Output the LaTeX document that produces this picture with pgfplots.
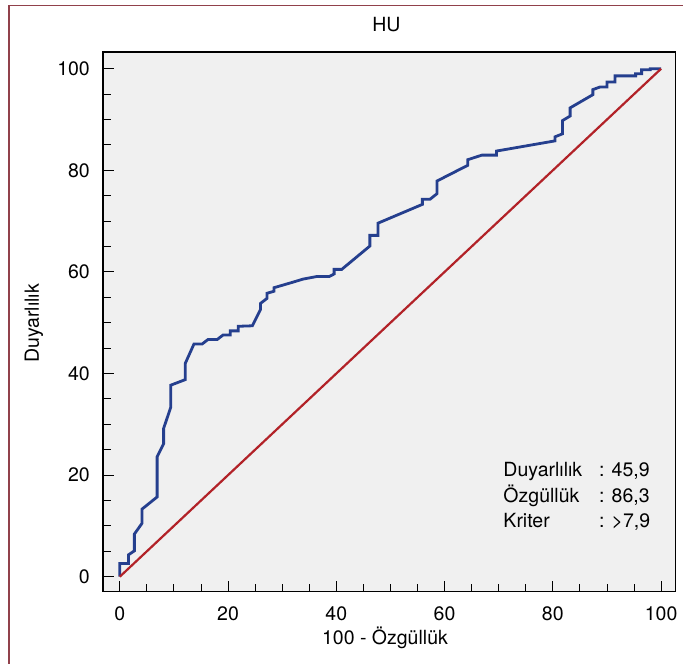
\documentclass[border=0pt]{standalone}
\usepackage{fontspec}
\setmainfont{TeX Gyre Heros}
\usepackage{pgfplots}
\pgfplotsset{compat=1.18}
\usetikzlibrary{calc}
\definecolor{bggray}{RGB}{240,240,240}
\definecolor{roc}{RGB}{37,63,142}
\definecolor{diag}{RGB}{178,34,40}
\definecolor{framecol}{RGB}{145,65,75}
\begin{document}
\fontsize{19.5bp}{23bp}\selectfont
\begin{tikzpicture}
\begin{axis}[name=ax, at={(0,0)}, anchor=south west,
 scale only axis, width=572.7bp, height=539.7bp,
 xmin=-3.1, xmax=102.7, ymin=-2.95, ymax=103.3,
 xtick={0,20,...,100}, ytick={0,20,...,100}, minor tick num=3,
 tick align=inside, xtick pos=bottom, ytick pos=left,
 major tick length=11bp, minor tick length=8bp,
 every tick/.append style={black, line width=0.9bp},
 axis line style={line width=1.2bp, black},
 axis background/.style={fill=bggray},
 /pgf/number format/assume math mode=true,
 tick label style={font=\fontsize{19.5bp}{23bp}\selectfont},
 xticklabel style={inner sep=0pt, yshift=-15bp},
 yticklabel style={inner sep=0pt, xshift=-13bp},
 title={HU}, title style={at={(axis description cs:0.495,1.0278)}, anchor=base, inner sep=0pt},
 xlabel={100 - Özgüllük}, xlabel style={at={(axis description cs:0.4924,-0.0982)}, anchor=base, inner sep=0pt},
 ylabel={Duyarlılık}, ylabel style={at={(axis description cs:-0.1118,0.497)}, anchor=base, inner sep=0pt},
]
\addplot[roc, line width=2.8bp, mark=none] coordinates {
(0,0) (0,2.6) (1.6,2.6) (1.6,4.3) (2.7,5.1) (2.7,8.4) (4.1,10.5) (4.1,13.3)
(6.9,15.7) (6.9,23.6) (8.1,26.2) (8.1,29.2) (9.4,33.3) (9.4,37.7) (12.1,38.8)
(12.1,42.0) (13.7,45.8) (15.2,45.8) (16.3,46.7) (18.0,46.7) (19.1,47.6)
(20.4,47.6) (20.4,48.4) (21.9,48.4) (21.9,49.3) (24.5,49.4) (26.0,52.6)
(26.0,53.8) (27.2,54.8) (27.2,55.8) (28.5,56.2) (28.5,56.9) (31.4,57.8)
(33.9,58.6) (36.4,59.1) (38.7,59.1) (39.6,59.6) (39.6,60.5) (41.0,60.5)
(46.2,65.1) (46.2,67.2) (47.7,67.2) (47.7,69.6) (55.9,73.3) (55.9,74.3)
(57.3,74.3) (58.6,75.4) (58.6,77.9) (64.3,81.0) (64.3,82.1) (66.9,83.0)
(69.6,83.0) (69.6,83.8) (80.4,85.8) (80.4,86.6) (81.8,87.2) (81.8,89.8)
(83.2,90.7) (83.2,92.3) (87.4,94.9) (87.4,95.9) (88.7,96.4) (90.0,96.4)
(90.0,97.4) (91.5,97.4) (91.5,98.6) (95.3,98.6) (95.3,99.0) (96.4,99.0)
(96.4,99.8) (98.0,99.8) (98.0,100) (100,100)
};
\addplot[diag, line width=2.2bp, mark=none] coordinates {(0,0) (100,100)};
\node[anchor=base west, inner sep=0pt] at (axis cs:70.85,19.67) {Duyarlılık};
\node[anchor=base west, inner sep=0pt] at (axis cs:88.5,19.67) {: 45,9};
\node[anchor=base west, inner sep=0pt] at (axis cs:70.85,14.56) {Özgüllük};
\node[anchor=base west, inner sep=0pt] at (axis cs:88.5,14.56) {: 86,3};
\node[anchor=base west, inner sep=0pt] at (axis cs:70.85,9.64) {Kriter};
\node[anchor=base west, inner sep=0pt] at (axis cs:88.5,9.64) {: >7,9};
\end{axis}
\pgfresetboundingbox
\path[use as bounding box] ($(ax.south west)+(-103bp,-72.3bp)$) rectangle ($(ax.south west)+(580bp,591.7bp)$);
\draw[framecol, line width=1.4bp] ($(ax.south west)+(-94bp,-80bp)$) -- ($(ax.south west)+(-94bp,586.4bp)$) -- ($(ax.south west)+(590bp,586.4bp)$);
\end{tikzpicture}
\end{document}
